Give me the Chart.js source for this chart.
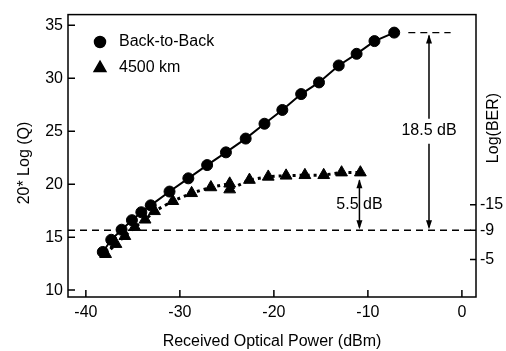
<!DOCTYPE html>
<html>
<head>
<meta charset="utf-8">
<script src="https://cdn.jsdelivr.net/npm/chart.js@4.4.1/dist/chart.umd.min.js"></script>
<style>
  html, body { margin: 0; padding: 0; background: #fff; }
</style>
</head>
<body>
<canvas id="chart" width="506" height="351"></canvas>
<script>
// received power (dBm) and 20*log(Q)
var powerB2B = [-38.2, -37.3, -36.2, -35.1, -34.1, -33.1, -31.1, -29.1, -27.1, -25.1,
                -23.0, -21.0, -19.1, -17.1, -15.2, -13.1, -11.2, -9.3, -7.2];
var qB2B = [13.6, 14.75, 15.7, 16.6, 17.35, 18.0, 19.3, 20.55, 21.8, 23.0,
            24.3, 25.7, 27.0, 28.5, 29.6, 31.2, 32.3, 33.5, 34.3];

var power4500 = [-37.9, -36.8, -35.85, -34.8, -33.7, -32.7, -30.75, -28.75, -26.7, -24.7,
                 -24.7, -22.6, -20.6, -18.7, -16.7, -14.7, -12.8, -10.8];
var q4500 = [13.4, 14.35, 15.1, 15.95, 16.65, 17.45, 18.4, 19.15, 19.7, 20.05,
             19.5, 20.4, 20.7, 20.8, 20.85, 20.85, 21.1, 21.1];

var seriesNames = ['Back-to-Back', '4500 km'];

var xTicks = [-40, -30, -20, -10, 0];
var yTicks = [10, 15, 20, 25, 30, 35];
// Log(BER) ticks on the right, placed at their 20*log(Q) equivalent
var berLabels = ['-15', '-9', '-5'];
var berQ = [18.05, 15.65, 12.9];

// annotation values
var thresholdQ = 15.65;
var gap1 = { x: -3.5, top: 34.3, label: '18.5 dB', labelY: 25.05, dashFrom: -5.7, dashTo: -1.2 };
var gap2 = { x: -10.9, top: 20.65, label: '5.5 dB', labelY: 18.1 };

var FONT = '"Liberation Sans", Arial, Helvetica, sans-serif';

function toPoints(xs, ys) {
  var pts = [];
  for (var i = 0; i < xs.length; i++) pts.push({ x: xs[i], y: ys[i] });
  return pts;
}

function arrowHead(ctx, x, y, dir) {
  // dir = -1 points up, +1 points down; (x, y) is the tip
  ctx.beginPath();
  ctx.moveTo(x, y);
  ctx.lineTo(x - 3, y - dir * 9);
  ctx.lineTo(x + 3, y - dir * 9);
  ctx.closePath();
  ctx.fill();
}

var decorations = {
  id: 'decorations',
  afterDraw: function(chart) {
    var ctx = chart.ctx;
    var a = chart.chartArea;
    var sx = chart.scales.x, sy = chart.scales.y, sb = chart.scales.y2;
    ctx.save();
    ctx.strokeStyle = '#000';
    ctx.fillStyle = '#000';

    // frame
    ctx.lineWidth = 1.5;
    ctx.strokeRect(a.left, a.top, a.right - a.left, a.bottom - a.top);

    // tick marks pointing inside
    ctx.beginPath();
    sx.ticks.forEach(function(t) {
      var px = sx.getPixelForValue(t.value);
      ctx.moveTo(px, a.bottom); ctx.lineTo(px, a.bottom - 7);
    });
    sy.ticks.forEach(function(t) {
      var py = sy.getPixelForValue(t.value);
      ctx.moveTo(a.left, py); ctx.lineTo(a.left + 7, py);
    });
    sb.ticks.forEach(function(t) {
      var py = sb.getPixelForValue(t.value);
      ctx.moveTo(a.right, py); ctx.lineTo(a.right - 6, py);
    });
    ctx.stroke();

    // BER 1e-9 threshold
    var ty = sy.getPixelForValue(thresholdQ);
    ctx.lineWidth = 1.3;
    ctx.setLineDash([7, 5]);
    ctx.beginPath();
    ctx.moveTo(a.left, ty); ctx.lineTo(a.right, ty);
    var topY = sy.getPixelForValue(gap1.top);
    ctx.moveTo(sx.getPixelForValue(gap1.dashFrom), topY);
    ctx.lineTo(sx.getPixelForValue(gap1.dashTo), topY);
    ctx.stroke();
    ctx.setLineDash([]);

    // 18.5 dB arrow
    var ax = sx.getPixelForValue(gap1.x);
    var ly = sy.getPixelForValue(gap1.labelY);
    ctx.lineWidth = 1.5;
    ctx.beginPath();
    ctx.moveTo(ax, topY + 3); ctx.lineTo(ax, ly - 12);
    ctx.moveTo(ax, ly + 13); ctx.lineTo(ax, ty - 3);
    ctx.stroke();
    arrowHead(ctx, ax, topY + 2, -1);
    arrowHead(ctx, ax, ty - 1, 1);

    // 5.5 dB arrow
    var bx = sx.getPixelForValue(gap2.x);
    var by = sy.getPixelForValue(gap2.top);
    ctx.beginPath();
    ctx.moveTo(bx, by + 3); ctx.lineTo(bx, ty - 3);
    ctx.stroke();
    arrowHead(ctx, bx, by + 2, -1);
    arrowHead(ctx, bx, ty - 1, 1);

    ctx.font = '16px ' + FONT;
    ctx.textAlign = 'center';
    ctx.textBaseline = 'middle';
    var w2 = ctx.measureText(gap2.label).width;
    var l2y = sy.getPixelForValue(gap2.labelY);
    ctx.fillStyle = '#fff';
    ctx.fillRect(bx - w2 / 2 - 1, l2y - 7, w2 / 2 - 3, 14);
    ctx.fillRect(bx + 3, l2y - 7, w2 / 2 - 2, 14);
    ctx.fillStyle = '#000';
    ctx.fillText(gap1.label, ax, ly);
    ctx.fillText(gap2.label, bx, l2y);

    // legend in the upper left corner
    var ds = chart.data.datasets;
    var legY = [42, 68];
    for (var i = 0; i < 2; i++) {
      Chart.helpers.drawPoint(ctx, {
        pointStyle: ds[i].pointStyle, radius: ds[i].pointRadius,
        rotation: 0, borderWidth: 1
      }, 100, legY[i]);
      ctx.fillStyle = '#000';
      ctx.textAlign = 'left';
      ctx.fillText(ds[i].label, 119, legY[i]);
    }

    // rotated axis titles
    ctx.save();
    ctx.translate(25, 163);
    ctx.rotate(-Math.PI / 2);
    ctx.textAlign = 'center';
    ctx.fillText('20* Log (Q)', 0, 0);
    ctx.restore();

    ctx.save();
    ctx.translate(494, 128);
    ctx.rotate(-Math.PI / 2);
    ctx.textAlign = 'center';
    ctx.fillText('Log(BER)', 0, 0);
    ctx.restore();

    ctx.restore();
  }
};

function tickFont() {
  return { family: FONT, size: 16 };
}

document.addEventListener('DOMContentLoaded', function() {
  new Chart(document.getElementById('chart'), {
    type: 'line',
    data: {
      datasets: [{
        label: seriesNames[0],
        data: toPoints(powerB2B, qB2B),
        borderColor: '#000',
        backgroundColor: '#000',
        borderWidth: 2,
        pointStyle: 'circle',
        pointRadius: 5.5,
        pointBorderWidth: 1
      }, {
        label: seriesNames[1],
        data: toPoints(power4500, q4500),
        borderColor: '#000',
        backgroundColor: '#000',
        borderWidth: 3,
        borderDash: [3, 4],
        pointStyle: 'triangle',
        pointRadius: 6.8,
        pointBorderWidth: 1
      }]
    },
    options: {
      responsive: false,
      devicePixelRatio: 1,
      animation: false,
      events: [],
      layout: { padding: { top: 10, left: 0, right: 0, bottom: 0 } },
      plugins: {
        legend: { display: false },
        tooltip: { enabled: false }
      },
      scales: {
        x: {
          type: 'linear',
          min: -41.9,
          max: 1.5,
          afterBuildTicks: function(s) { s.ticks = xTicks.map(function(v) { return { value: v }; }); },
          afterFit: function(s) { s.height = 54; },
          grid: { display: false, drawTicks: false },
          border: { display: false },
          ticks: { color: '#000', font: tickFont(), padding: 6, maxRotation: 0, autoSkip: false },
          title: {
            display: true,
            text: 'Received Optical Power (dBm)',
            color: '#000',
            font: tickFont(),
            padding: 0
          }
        },
        y: {
          position: 'left',
          min: 9.35,
          max: 36.0,
          afterBuildTicks: function(s) { s.ticks = yTicks.map(function(v) { return { value: v }; }); },
          afterFit: function(s) { s.width = 68; },
          grid: { display: false, drawTicks: false },
          border: { display: false },
          ticks: { color: '#000', font: tickFont(), padding: 5, autoSkip: false }
        },
        y2: {
          position: 'right',
          min: 9.35,
          max: 36.0,
          afterBuildTicks: function(s) { s.ticks = berQ.map(function(v) { return { value: v }; }); },
          afterFit: function(s) { s.width = 30; },
          grid: { display: false, drawTicks: false },
          border: { display: false },
          ticks: {
            color: '#000', font: tickFont(), padding: 4, autoSkip: false,
            callback: function(v, i) { return berLabels[i]; }
          }
        }
      }
    },
    plugins: [decorations]
  });
});
</script>
</body>
</html>
